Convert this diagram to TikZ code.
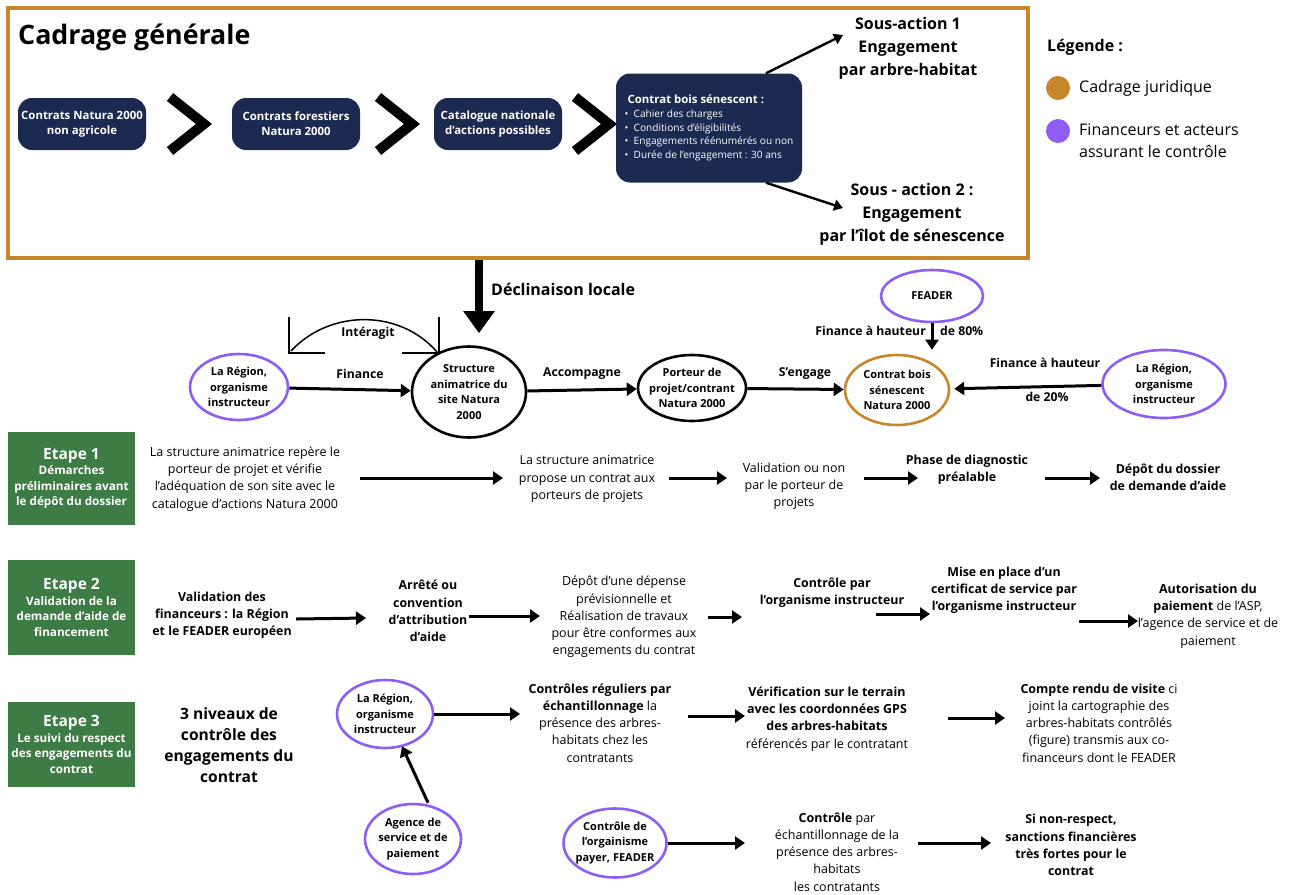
\documentclass[tikz,border=0pt]{standalone}
\usepackage{fontspec}
\setmainfont{Open Sans}
\usetikzlibrary{
	arrows.meta,
	shapes.geometric,
	positioning,
	calc
	}
\definecolor{marine}{HTML}{1C2951}
\definecolor{ocre}{HTML}{C8862A}
\definecolor{mauve}{HTML}{8F5CF5}
\definecolor{vert}{HTML}{3E7C46}
\newcommand{\taille}[2]{\fontsize{#1}{#2}\selectfont}
\tikzstyle{cadre-general}=[draw=ocre, line width=3.2pt, minimum width=1020pt, minimum height=250pt, inner sep=0pt]
\tikzstyle{boite-marine}=[fill=marine, text=white, rounded corners=14pt, minimum width=128pt, minimum height=52pt, align=center, font=\bfseries\taille{11.4}{15}, inner sep=2pt]
\tikzstyle{chevron}=[line width=10pt, miter limit=20]
\tikzstyle{bulle}=[ellipse, draw, line width=2.6pt, inner sep=0pt]
\tikzstyle{bulle-mauve}=[bulle, draw=mauve]
\tikzstyle{bulle-ocre}=[bulle, draw=ocre]
\tikzstyle{texte-bulle}=[align=center, font=\bfseries\taille{11}{15.5}, inner sep=0pt]
\tikzstyle{etape}=[fill=vert, text=white, minimum width=127pt, align=center, inner sep=0pt, font=\bfseries\taille{11.7}{15.5}]
\tikzstyle{texte}=[align=center, inner sep=0pt, font=\taille{12.5}{17.2}]
\tikzstyle{texte-gras}=[texte, font=\bfseries\taille{12.4}{17.2}]
\tikzstyle{etiquette}=[inner sep=0pt, font=\bfseries\taille{12.2}{14}]
\tikzstyle{sous-action}=[align=center, inner sep=0pt, font=\bfseries\taille{16}{23}]
\tikzstyle{fleche}=[line width=3pt, -{Triangle[length=10pt,width=13pt]}]
\tikzstyle{fleche-fine}=[line width=2.4pt, -{Triangle[length=9pt,width=11pt]}]
\tikzstyle{fleche-epaisse}=[line width=8pt, -{Triangle[length=22pt,width=30pt]}]
\tikzstyle{crochet}=[line width=1.5pt]

\begin{document}
\begin{tikzpicture}[x=1pt, y=-1pt]
            \useasboundingbox (0,0) rectangle (1289,894);
            % cadrage general
            \node[cadre-general] (cadre) at (518,133) {};
            \node[anchor=west, inner sep=0pt, font=\bfseries\taille{26.8}{30}] (titre) at (18,37) {Cadrage générale};

            \node[boite-marine] (cn1) at (82,124) {Contrats Natura 2000\\non agricole};
            \node[boite-marine] (cn2) at (296,124) {Contrats forestiers\\Natura 2000};
            \node[boite-marine] (cn3) at (498,124) {Catalogue nationale\\d'actions possibles};
            \node[boite-marine, minimum width=186pt, minimum height=109pt, align=left, font=\taille{10.1}{13.6}] (cn4) at (709,128)
               {{\bfseries\taille{11.4}{14} Contrat bois sénescent :}\\
                \textbullet\ \ Cahier des charges\\
                \textbullet\ \ Conditions d'éligibilités\\
                \textbullet\ \ Engagements réénumérés ou non\\
                \textbullet\ \ Durée de l'engagement : 30 ans};

            \draw[chevron] (170,97) -- (204,124) -- (170,151);
            \draw[chevron] (378,97) -- (412,124) -- (378,151);
            \draw[chevron] (575,97) -- (609,124) -- (575,151);

            \node[sous-action] (sa1) at (908,48) {Sous-action 1\\Engagement\\par arbre-habitat};
            \node[sous-action] (sa2) at (912,214) {Sous - action 2 :\\Engagement\\par l'îlot de sénescence};
            \draw[fleche-fine] ([xshift=57pt]cn4.north) -- ([xshift=-65pt,yshift=13pt]sa1.center);
            \draw[fleche-fine] ([xshift=57pt]cn4.south) -- ([xshift=-69pt,yshift=6pt]sa2.center);

            % legende
            \node[anchor=west, inner sep=0pt, font=\bfseries\taille{16}{18}] (legende) at (1047,47) {Légende :};
            \node[circle, fill=ocre, minimum size=24pt, inner sep=0pt] (pastille-ocre) at (1058,88) {};
            \node[circle, fill=mauve, minimum size=24pt, inner sep=0pt] (pastille-mauve) at (1058,131) {};
            \node[anchor=west, inner sep=0pt, font=\taille{16}{22}] (leg-ocre) at (1079,88) {Cadrage juridique};
            \node[anchor=west, inner sep=0pt, align=left, font=\taille{16}{22}] (leg-mauve) at (1079,141) {Financeurs et acteurs\\assurant le contrôle};

            % declinaison locale
            \node[bulle-mauve, minimum width=98pt, minimum height=66pt] (reg1) at (239,387) {};
            \node[texte-bulle] (reg1-txt) at (reg1) {La Région,\\organisme\\instructeur};
            \node[bulle, minimum width=114pt, minimum height=91pt] (struct) at (469,392) {};
            \node[texte-bulle] (struct-txt) at (struct) {Structure\\animatrice du\\site Natura\\2000};
            \node[bulle, minimum width=108pt, minimum height=66pt] (porteur) at (692,388) {};
            \node[texte-bulle] (porteur-txt) at (porteur) {Porteur de\\projet/contrant\\Natura 2000};
            \node[bulle-ocre, minimum width=104pt, minimum height=70pt] (contrat) at (897,390) {};
            \node[texte-bulle] (contrat-txt) at (contrat) {Contrat bois\\sénescent\\Natura 2000};
            \node[bulle-mauve, minimum width=102pt, minimum height=52pt] (feader) at (932,296) {};
            \node[texte-bulle] (feader-txt) at (feader) {FEADER};
            \node[bulle-mauve, minimum width=123pt, minimum height=68pt] (reg2) at (1164,384) {};
            \node[texte-bulle] (reg2-txt) at (reg2) {La Région,\\organisme\\instructeur};

            \draw[fleche-epaisse] ([xshift=-39pt]cadre.south) -- ([xshift=10pt,yshift=12pt]struct.north);
            \node[anchor=west, inner sep=0pt, font=\bfseries\taille{16}{18}] (declinaison) at (491,289) {Déclinaison locale};

            \draw[crochet] (289,317) -- (289,353) -- (325,353);
            \draw[crochet] (439,317) -- (439,353) -- (402,353);
            \draw[crochet] (291,351) .. controls (330,309) and (400,309) .. (437,352);
            \node[etiquette] (interagit) at (368,333) {Intéragit};

            \draw[fleche] (reg1) -- (struct);
            \draw[fleche] (struct) -- (porteur);
            \draw[fleche] (porteur) -- (contrat);
            \draw[fleche] (feader.south) -- ([yshift=4pt]feader.south |- contrat.north);
            \draw[fleche, shorten >=4pt] (reg2) -- (contrat);
            \node[etiquette] (l-finance) at (360,374) {Finance};
            \node[etiquette] (l-accompagne) at (582,374) {Accompagne};
            \node[etiquette] (l-engage) at (805,374) {S'engage};
            \node[etiquette, anchor=east] (l-80a) at (926,331) {Finance à hauteur};
            \node[etiquette, anchor=west] (l-80b) at (940,331) {de 80\%};
            \node[etiquette] (l-20a) at (1045,363) {Finance à hauteur};
            \node[etiquette] (l-20b) at (1047,397) {de 20\%};

            % etape 1
            \coordinate (rang1) at (0,478);
            \node[etape, minimum height=93pt] (etape1) at (71.5,478.5) {{\taille{15.5}{19}Etape 1}\\Démarches\\préliminaires avant\\le dépôt du dossier};
            \node[texte] (e1-repere) at (245,479) {La structure animatrice repère le\\porteur de projet et vérifie\\l'adéquation de son site avec le\\catalogue d'actions Natura 2000};
            \node[texte] (e1-propose) at (587,479) {La structure animatrice\\propose un contrat aux\\porteurs de projets};
            \node[texte] (e1-validation) at (794,486) {Validation ou non\\par le porteur de\\projets};
            \node[texte-gras] (e1-diagnostic) at (967,470) {Phase de diagnostic\\préalable};
            \node[texte-gras] (e1-depot) at (1168,477) {Dépôt du dossier\\de demande d'aide};
            \draw[fleche] ([xshift=115pt]e1-repere.center |- rang1) -- ([xshift=-84pt]e1-propose.center |- rang1);
            \draw[fleche] ([xshift=82pt]e1-propose.center |- rang1) -- ([xshift=-67pt]e1-validation.center |- rang1);
            \draw[fleche] ([xshift=70pt]e1-validation.center |- rang1) -- ([xshift=-49pt]e1-diagnostic.center |- rang1);
            \draw[fleche] ([xshift=78pt]e1-diagnostic.center |- rang1) -- ([xshift=-68pt]e1-depot.center |- rang1);

            % etape 2
            \coordinate (rang2) at (0,617);
            \node[etape, minimum height=95pt] (etape2) at (71.5,607.5) {{\taille{15.5}{19}Etape 2}\\Validation de la\\demande d'aide de\\financement};
            \node[texte-gras] (e2-validation) at (222,615) {Validation des\\financeurs : la Région\\et le FEADER européen};
            \node[texte-gras] (e2-arrete) at (428,611) {Arrêté ou\\convention\\d'attribution\\d'aide};
            \node[texte] (e2-depot) at (624,617) {Dépôt d'une dépense\\prévisionnelle et\\Réalisation de travaux\\pour être conformes aux\\engagements du contrat};
            \node[texte-gras] (e2-controle) at (832,593) {Contrôle par\\l'organisme instructeur};
            \node[texte-gras] (e2-certificat) at (1004,590) {Mise en place d'un\\certificat de service par\\l'organisme instructeur};
            \node[texte] (e2-autorisation) at (1208,616) {\textbf{Autorisation du}\\\textbf{paiement} de l'ASP,\\l'agence de service et de\\paiement};
            \draw[fleche] ([xshift=74pt,yshift=-2pt]e2-validation.center |- rang2) -- ([xshift=-62pt,yshift=-1pt]e2-arrete.center |- rang2);
            \draw[fleche] ([xshift=41pt,yshift=1pt]e2-arrete.center |- rang2) -- ([xshift=-84pt,yshift=1pt]e2-depot.center |- rang2);
            \draw[fleche] ([xshift=84pt]e2-depot.center |- rang2) -- ([xshift=-90pt]e2-controle.center |- rang2);
            \draw[fleche] ([xshift=44pt,yshift=3pt]e2-controle.center |- rang2) -- ([xshift=-74pt,yshift=3pt]e2-certificat.center |- rang2);
            \draw[fleche] ([xshift=75pt,yshift=-4pt]e2-certificat.center |- rang2) -- ([xshift=-70pt,yshift=-4pt]e2-autorisation.center |- rang2);

            % etape 3
            \coordinate (rang3) at (0,716);
            \coordinate (rang4) at (0,843);
            \node[etape, minimum height=85pt] (etape3) at (71.5,744.5) {{\taille{15.5}{19}Etape 3}\\Le suivi du respect\\des engagements du\\contrat};
            \node[align=center, inner sep=0pt, font=\bfseries\taille{15.6}{21}] (e3-niveaux) at (229,745) {3 niveaux de\\contrôle des\\engagements du\\contrat};
            \node[bulle-mauve, minimum width=96pt, minimum height=68pt] (reg3) at (385,714) {};
            \node[texte-bulle] (reg3-txt) at (reg3) {La Région,\\organisme\\instructeur};
            \node[bulle-mauve, minimum width=96pt, minimum height=70pt] (agence) at (413,839) {};
            \node[texte-bulle] (agence-txt) at (agence) {Agence de\\service et de\\paiement};
            \node[bulle-mauve, minimum width=103pt, minimum height=69pt] (payeur) at (615,843) {};
            \node[texte-bulle] (payeur-txt) at (payeur) {Contrôle de\\l'orgainisme\\payer, FEADER};
            \node[texte] (e3-regulier) at (600,723) {\textbf{Contrôles réguliers par}\\\textbf{échantillonnage} la\\présence des arbres-\\habitats chez les\\contratants};
            \node[texte] (e3-verif) at (827,719) {\textbf{Vérification sur le terrain}\\\textbf{avec les coordonnées GPS}\\\textbf{des arbres-habitats}\\référencés par le contratant};
            \node[texte] (e3-compte) at (1099,723) {\textbf{Compte rendu de visite} ci\\joint la cartographie des\\arbres-habitats contrôlés\\(figure) transmis aux co-\\financeurs dont le FEADER};
            \node[texte] (e3-controle) at (837,852) {\textbf{Contrôle} par\\échantillonnage de la\\présence des arbres-\\habitats\\les contratants};
            \node[texte-gras] (e3-sanctions) at (1071,845) {Si non-respect,\\sanctions financières\\très fortes pour le\\contrat};
            \draw[fleche] (reg3.east) -- ([xshift=-80pt]e3-regulier.center |- reg3.east);
            \draw[fleche] ([xshift=88pt]e3-regulier.center |- rang3) -- ([xshift=-82pt]e3-verif.center |- rang3);
            \draw[fleche] ([xshift=121pt,yshift=-2pt]e3-verif.center |- rang3) -- ([xshift=-94pt,yshift=-2pt]e3-compte.center |- rang3);
            \draw[fleche] ([xshift=15pt]agence.north) -- ([xshift=17pt,yshift=3pt]reg3.south);
            \draw[fleche] (payeur.east |- rang4) -- ([xshift=-92pt]e3-controle.center |- rang4);
            \draw[fleche] ([xshift=81pt]e3-controle.center |- rang4) -- ([xshift=-80pt]e3-sanctions.center |- rang4);
        \end{tikzpicture}
\end{document}
